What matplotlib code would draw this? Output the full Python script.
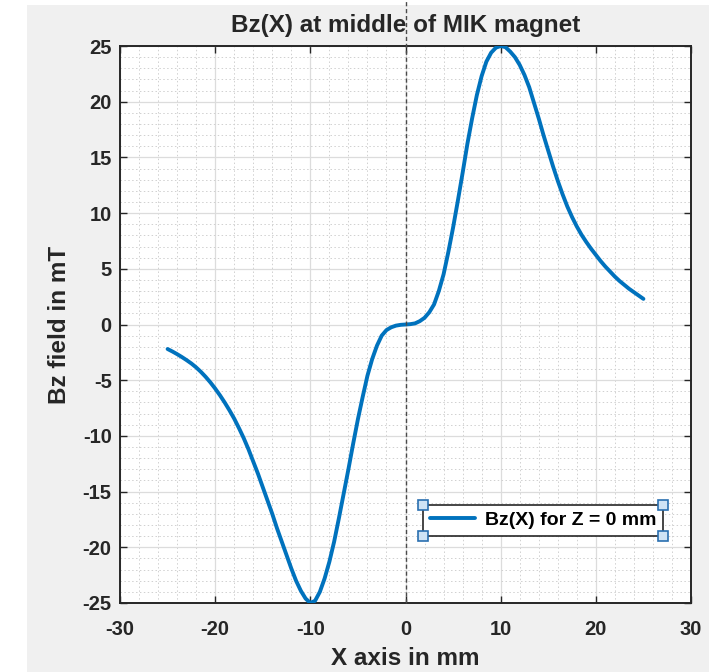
import matplotlib
matplotlib.use('Agg')
import matplotlib.pyplot as plt
from matplotlib.patches import Rectangle
from matplotlib.ticker import MultipleLocator

# Bz(X), every 0.5 mm
x_mm = [-25.0, -24.5, -24.0, -23.5, -23.0, -22.5, -22.0, -21.5, -21.0, -20.5,
        -20.0, -19.5, -19.0, -18.5, -18.0, -17.5, -17.0, -16.5, -16.0, -15.5,
        -15.0, -14.5, -14.0, -13.5, -13.0, -12.5, -12.0, -11.5, -11.0, -10.5,
        -10.0, -9.5, -9.0, -8.5, -8.0, -7.5, -7.0, -6.5, -6.0, -5.5,
        -5.0, -4.5, -4.0, -3.5, -3.0, -2.5, -2.0, -1.5, -1.0, -0.5,
        0.0, 0.5, 1.0, 1.5, 2.0, 2.5, 3.0, 3.5, 4.0, 4.5,
        5.0, 5.5, 6.0, 6.5, 7.0, 7.5, 8.0, 8.5, 9.0, 9.5,
        10.0, 10.5, 11.0, 11.5, 12.0, 12.5, 13.0, 13.5, 14.0, 14.5,
        15.0, 15.5, 16.0, 16.5, 17.0, 17.5, 18.0, 18.5, 19.0, 19.5,
        20.0, 20.5, 21.0, 21.5, 22.0, 22.5, 23.0, 23.5, 24.0, 24.5, 25.0]
bz_mT = [-2.2, -2.42, -2.66, -2.92, -3.2, -3.5, -3.85, -4.25, -4.7, -5.2,
         -5.75, -6.35, -7.0, -7.7, -8.45, -9.3, -10.2, -11.2, -12.3, -13.4,
         -14.6, -15.8, -17.0, -18.3, -19.5, -20.7, -21.9, -23.0, -23.9, -24.6,
         -25.0, -24.8, -24.0, -22.8, -21.3, -19.5, -17.4, -15.2, -13.0, -10.7,
         -8.5, -6.5, -4.6, -3.1, -1.9, -1.0, -0.5, -0.25, -0.1, -0.03,
         0.0, 0.03, 0.1, 0.3, 0.6, 1.1, 1.8, 3.0, 4.5, 6.5,
         8.7, 11.1, 13.6, 16.2, 18.5, 20.6, 22.3, 23.6, 24.4, 24.85,
         25.0, 24.9, 24.5, 24.0, 23.3, 22.4, 21.3, 19.9, 18.5, 17.0,
         15.6, 14.2, 12.9, 11.7, 10.6, 9.65, 8.8, 8.05, 7.4, 6.8,
         6.25, 5.7, 5.2, 4.75, 4.3, 3.9, 3.55, 3.2, 2.9, 2.6, 2.3]

xticks = [-30, -20, -10, 0, 10, 20, 30]
yticks = [-25, -20, -15, -10, -5, 0, 5, 10, 15, 20, 25]

plt.rcParams['font.family'] = ['Liberation Sans', 'DejaVu Sans']
plt.rcParams['font.weight'] = 'bold'
plt.rcParams['axes.unicode_minus'] = False

W, H = 721, 672
fig = plt.figure(figsize=(W / 100, H / 100), dpi=100, facecolor='white')
# grey MATLAB figure panel
fig.patches.append(Rectangle((27 / W, 0), (709 - 27) / W, (H - 5) / H,
                             transform=fig.transFigure, facecolor='#f0f0f0',
                             edgecolor='none', zorder=-10))

ax = fig.add_axes([120 / W, (H - 603) / H, 571 / W, 557 / H])
ax.set_zorder(1)
ax.set_facecolor('white')

ax.plot(x_mm, bz_mT, color='#0072BD', lw=2.8, label='Bz(X) for Z = 0 mm', zorder=3,
        solid_joinstyle='round', solid_capstyle='round')

ax.set_xlim(-30, 30)
ax.set_ylim(-25, 25)
ax.set_xticks(xticks)
ax.set_yticks(yticks)
ax.xaxis.set_minor_locator(MultipleLocator(2))
ax.yaxis.set_minor_locator(MultipleLocator(1))
ax.grid(True, which='major', color='#dcdcdc', lw=0.9)
ax.grid(True, which='minor', color='#d0d0d0', lw=0.7, ls=(0, (1.5, 2.5)))
ax.set_axisbelow(True)
ax.tick_params(which='major', direction='in', length=5, width=1, top=True, right=True,
               labelsize=14.5, colors='#262626')
ax.tick_params(axis='x', which='major', pad=12)
ax.tick_params(axis='y', which='major', pad=6)
ax.tick_params(which='minor', length=0, top=True, right=True)
for s in ax.spines.values():
    s.set_color('#262626')
    s.set_linewidth(1.4)

# dashed marker line at x = 0, running up past the axes
ax.axvline(0, ymin=0, ymax=603 / 557, color='#4a4a4a', lw=1.0, ls=(0, (3, 2)),
           clip_on=False, zorder=4)

ax.set_title('Bz(X) at middle of MIK magnet', fontsize=17.5, fontweight='bold',
             color='#262626', pad=10)
ax.set_xlabel('X axis in mm', fontsize=17.5, fontweight='bold', color='#262626', labelpad=6)
ax.set_ylabel('Bz field in mT', fontsize=17.5, fontweight='bold', color='#262626', labelpad=8)

leg = ax.legend(loc='lower right', bbox_to_anchor=(663 / W, (H - 536) / H),
                bbox_transform=fig.transFigure, fontsize=14, frameon=True, fancybox=False,
                handlelength=2.3, borderpad=0.35, handletextpad=0.5, borderaxespad=0)
leg.get_frame().set_edgecolor('#262626')
leg.get_frame().set_linewidth(1.2)
leg.get_frame().set_facecolor('white')
leg.get_frame().set_alpha(1)

# selection handles on the legend corners
fig.canvas.draw()
bb = leg.get_window_extent().transformed(fig.transFigure.inverted())
for cx in (bb.x0, bb.x1):
    for cy in (bb.y0, bb.y1):
        fig.lines.append(plt.Line2D([cx], [cy], transform=fig.transFigure, marker='s',
                                    markersize=7, markerfacecolor='#cfe3f5',
                                    markeredgecolor='#2a6fb0', markeredgewidth=1.2,
                                    zorder=10))

fig.savefig('out.png', dpi=100, facecolor='white')
